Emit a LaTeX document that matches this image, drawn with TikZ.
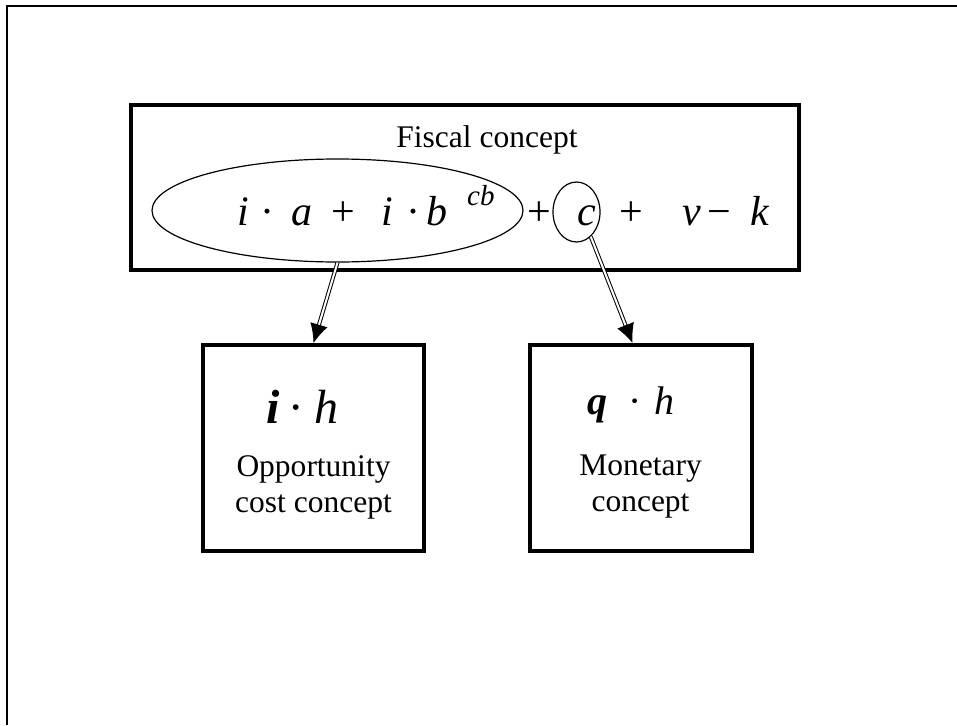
\documentclass[tikz,border=0pt]{standalone}
\usepackage{fontspec}
\setmainfont{Liberation Serif}
\usetikzlibrary{arrows.meta,calc,positioning,shapes.geometric}
\tikzset{
  frame/.style = {line width=2pt},
  block/.style = {draw, rectangle, line width=4pt, inner sep=0pt},
  ring/.style = {draw, ellipse, line width=1.2pt, inner sep=0pt},
  sym/.style = {anchor=base west, inner sep=0pt, font=\fontsize{42}{48}\selectfont\itshape},
  blocktext/.style = {align=center, inner sep=0pt, font=\fontsize{31.5}{36}\selectfont},
  link/.style = {double, double distance=2pt, line width=1pt, -{Latex[length=19pt,width=18pt]}}
}

\begin{document}
\begin{tikzpicture}[x=1pt, y=-1pt]
    \useasboundingbox (0,0) rectangle (957,725);
    % Frame
    \draw [frame] (957,6) -- (7,6) -- (7,725);

    % Fiscal concept
    \node [block, minimum width=668pt, minimum height=165pt] (fiscal) at (464.5,187.5) {};
    \node [blocktext, anchor=base] (fiscal_text) at (487,147) {Fiscal concept};
    \node [ring, minimum width=371pt, minimum height=103pt] (lump) at (337.5,210.5) {};
    \node [ring, minimum width=47pt, minimum height=60pt] (cring) at (576.5,212) {};
    \foreach \x/\g [count=\n] in {237/i, 260/{\upshape ·}, 291/a, 331/{\upshape +},
        381/i, 406/{\upshape ·}, 426/b, 527/{\upshape +}, 577/c, 619/{\upshape +},
        682/v, 707/{\upshape −}, 750/k}
      \node [sym] (term\n) at (\x,225) {\g};
    \node [sym, font=\fontsize{29}{30}\selectfont\itshape] (term_cb) at (467,205) {cb};

    % Opportunity cost and monetary concepts
    \node [block, minimum width=221pt, minimum height=206pt] (opportunity) at (313.5,448) {};
    \node [block, minimum width=222pt, minimum height=206pt] (monetary) at (640.5,448) {};
    \node [sym, font=\fontsize{48}{54}\selectfont\itshape] (opportunity_f) at (266,423)
        {\textbf{i}\hspace{9.5pt}·\hspace{13.5pt}h};
    \node [sym, font=\fontsize{40}{46}\selectfont\itshape] (monetary_f) at (587,414)
        {\textbf{q}\hspace{22pt}·\hspace{15pt}h};
    \node [blocktext] (opportunity_text) at (313.5,487) {Opportunity\\cost concept};
    \node [blocktext] (monetary_text) at (640.5,487) {Monetary\\concept};

    % Connections
    \draw [link] (lump.south) -- (opportunity.north);
    \draw [link] (cring.-60) -- ($(monetary.north)+(-8,0)$);
\end{tikzpicture}
\end{document}
